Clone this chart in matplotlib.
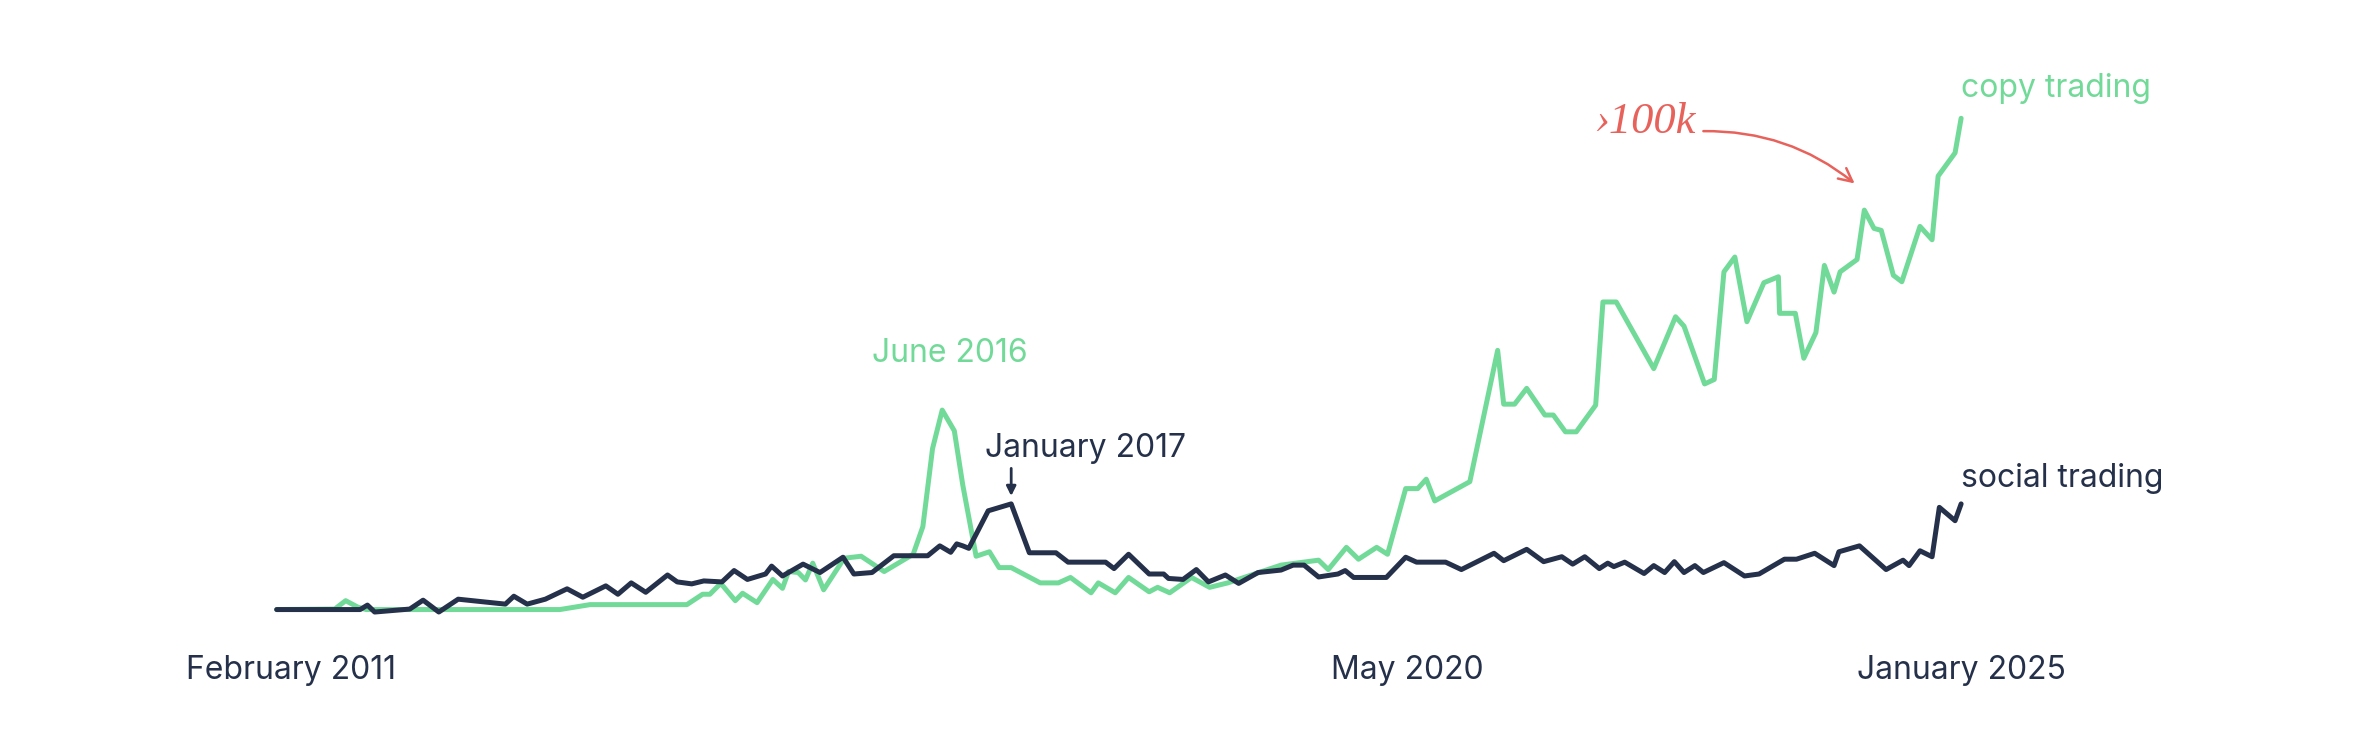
import matplotlib
matplotlib.use("Agg")
import matplotlib.pyplot as plt

# google-trends style interest (decimal year, index 0-100)
copy_years = [2011.08, 2011.56, 2011.65, 2011.75, 2011.82, 2013.42, 2013.67, 2014.47, 2014.60, 2014.66,
              2014.75, 2014.87, 2014.93, 2015.05, 2015.18, 2015.26, 2015.31, 2015.39, 2015.45, 2015.51,
              2015.60, 2015.77, 2015.91, 2016.10, 2016.34, 2016.42, 2016.50, 2016.58, 2016.68, 2016.75,
              2016.86, 2016.97, 2017.05, 2017.15, 2017.39, 2017.54, 2017.64, 2017.81, 2017.87, 2018.01,
              2018.12, 2018.29, 2018.36, 2018.46, 2018.64, 2018.79, 2018.94, 2019.05, 2019.38, 2019.69,
              2019.77, 2019.92, 2020.02, 2020.17, 2020.26, 2020.41, 2020.51, 2020.58, 2020.65, 2020.94,
              2021.17, 2021.22, 2021.31, 2021.41, 2021.56, 2021.63, 2021.73, 2021.82, 2021.98, 2022.04,
              2022.15, 2022.46, 2022.64, 2022.71, 2022.88, 2022.96, 2023.04, 2023.13, 2023.23, 2023.37,
              2023.49, 2023.50, 2023.63, 2023.70, 2023.80, 2023.87, 2023.95, 2024.00, 2024.14, 2024.20,
              2024.28, 2024.34, 2024.44, 2024.51, 2024.66, 2024.76, 2024.81, 2024.95, 2025.00]
copy_vals = [0.5, 0.6, 2.3, 1.0, 0.5, 0.5, 1.5, 1.5, 3.6, 3.6,
             5.8, 2.3, 3.8, 1.9, 6.6, 4.8, 8.2, 8.0, 6.5, 9.9,
             4.5, 10.9, 11.3, 8.2, 11.7, 17.3, 33.1, 40.9, 36.7, 25.7,
             11.3, 12.2, 9.0, 9.0, 5.9, 5.9, 7.0, 3.9, 5.9, 3.9,
             7.0, 4.1, 5.0, 3.9, 7.0, 5.0, 5.9, 6.8, 9.5, 10.5,
             8.6, 13.1, 10.7, 13.1, 11.7, 25.0, 25.0, 26.9, 22.5, 26.4,
             53.0, 42.1, 42.1, 45.3, 39.9, 39.9, 36.5, 36.5, 41.9, 62.8,
             62.8, 49.3, 59.8, 57.9, 46.2, 47.1, 68.9, 71.9, 58.8, 66.7,
             67.9, 60.5, 60.5, 51.4, 56.6, 70.2, 64.8, 68.9, 71.4, 81.4,
             77.7, 77.3, 68.2, 66.9, 78.1, 75.4, 88.3, 93.0, 100.0]

social_years = [2011.08, 2011.77, 2011.83, 2011.89, 2012.18, 2012.29, 2012.42, 2012.58, 2012.97, 2013.04,
                2013.15, 2013.30, 2013.48, 2013.61, 2013.80, 2013.90, 2014.01, 2014.13, 2014.31, 2014.39,
                2014.51, 2014.61, 2014.76, 2014.86, 2014.97, 2015.12, 2015.17, 2015.26, 2015.43, 2015.57,
                2015.76, 2015.85, 2016.00, 2016.18, 2016.46, 2016.56, 2016.65, 2016.70, 2016.75, 2016.80,
                2016.96, 2017.15, 2017.30, 2017.52, 2017.62, 2017.93, 2018.00, 2018.12, 2018.29, 2018.41,
                2018.45, 2018.57, 2018.68, 2018.78, 2018.92, 2019.03, 2019.19, 2019.38, 2019.48, 2019.57,
                2019.69, 2019.85, 2019.91, 2019.98, 2020.25, 2020.41, 2020.50, 2020.74, 2020.87, 2021.14,
                2021.22, 2021.41, 2021.55, 2021.70, 2021.79, 2021.89, 2022.01, 2022.08, 2022.13, 2022.22,
                2022.38, 2022.46, 2022.55, 2022.63, 2022.71, 2022.80, 2022.87, 2023.04, 2023.21, 2023.33,
                2023.54, 2023.64, 2023.79, 2023.95, 2023.99, 2024.16, 2024.38, 2024.52, 2024.57, 2024.66,
                2024.76, 2024.82, 2024.95, 2025.00]
social_vals = [0.5, 0.5, 1.4, 0.0, 0.6, 2.4, 0.0, 2.6, 1.6, 3.2,
               1.6, 2.6, 4.7, 3.0, 5.3, 3.6, 5.9, 4.0, 7.5, 6.1,
               5.7, 6.3, 6.1, 8.4, 6.6, 7.7, 9.3, 7.3, 9.7, 8.0,
               11.1, 7.7, 8.0, 11.4, 11.4, 13.4, 12.1, 13.8, 13.4, 12.9,
               20.5, 21.9, 12.0, 12.0, 10.1, 10.1, 8.8, 11.7, 7.7, 7.7,
               6.8, 6.6, 8.6, 6.1, 7.5, 5.8, 8.0, 8.5, 9.5, 9.5,
               7.1, 7.7, 8.4, 7.0, 7.0, 11.1, 10.1, 10.1, 8.6, 11.9,
               10.4, 12.7, 10.2, 11.2, 9.7, 11.2, 8.8, 9.9, 9.2, 10.1,
               7.8, 9.4, 8.0, 10.2, 8.0, 9.4, 8.0, 10.0, 7.3, 7.7,
               10.7, 10.7, 11.9, 9.4, 12.2, 13.4, 8.6, 10.5, 9.4, 12.4,
               11.2, 21.2, 18.5, 21.9]

tick_pos = [2011.2, 2020.42, 2025.0]
tick_labels = ["February 2011", "May 2020", "January 2025"]

GREEN = "#72DA98"
NAVY = "#25314A"
RED = "#E8625C"

plt.rcParams["font.family"] = ["Inter", "DejaVu Sans"]

fig = plt.figure(figsize=(23.8, 7.38), dpi=100)
ax = fig.add_axes([0.1164, 0.1707, 0.7076, 0.6690])

ax.plot(copy_years, copy_vals, color=GREEN, lw=3.6, solid_joinstyle="round",
        solid_capstyle="round", clip_on=False, zorder=2)
ax.plot(social_years, social_vals, color=NAVY, lw=3.6, solid_joinstyle="round",
        solid_capstyle="round", clip_on=False, zorder=3)

ax.set_xlim(2011.083, 2025.0)
ax.set_ylim(0, 100)
for s in ax.spines.values():
    s.set_visible(False)
ax.set_yticks([])
ax.set_xticks(tick_pos)
ax.set_xticklabels(tick_labels, fontsize=23, color=NAVY)
ax.tick_params(axis="x", length=0, pad=31)

# series labels at the line ends
ax.text(2025.0, 104.3, "copy trading", color=GREEN, fontsize=23, ha="left", va="baseline")
ax.text(2025.0, 25.3, "social trading", color=NAVY, fontsize=23, ha="left", va="baseline")

# peaks
ax.text(2016.0, 50.7, "June 2016", color=GREEN, fontsize=23, ha="left", va="baseline")
ax.text(2016.93, 31.4, "January 2017", color=NAVY, fontsize=23, ha="left", va="baseline")
ax.annotate("", xy=(2017.15, 23.5), xytext=(2017.15, 29.1),
            arrowprops=dict(arrowstyle="-|>", color=NAVY, lw=2, mutation_scale=14,
                            shrinkA=0, shrinkB=0))

# hand drawn note
ax.text(2021.97, 97.0, "›100k", color=RED, fontsize=32, ha="left", va="baseline",
        family="Liberation Serif", style="italic")
ax.annotate("", xy=(2024.12, 86.8), xytext=(2022.87, 97.4),
            arrowprops=dict(arrowstyle="->", color=RED, lw=1.8, mutation_scale=24,
                            connectionstyle="arc3,rad=-0.18", shrinkA=0, shrinkB=0),
            annotation_clip=False)

fig.savefig("out.png", dpi=100, facecolor="white")
